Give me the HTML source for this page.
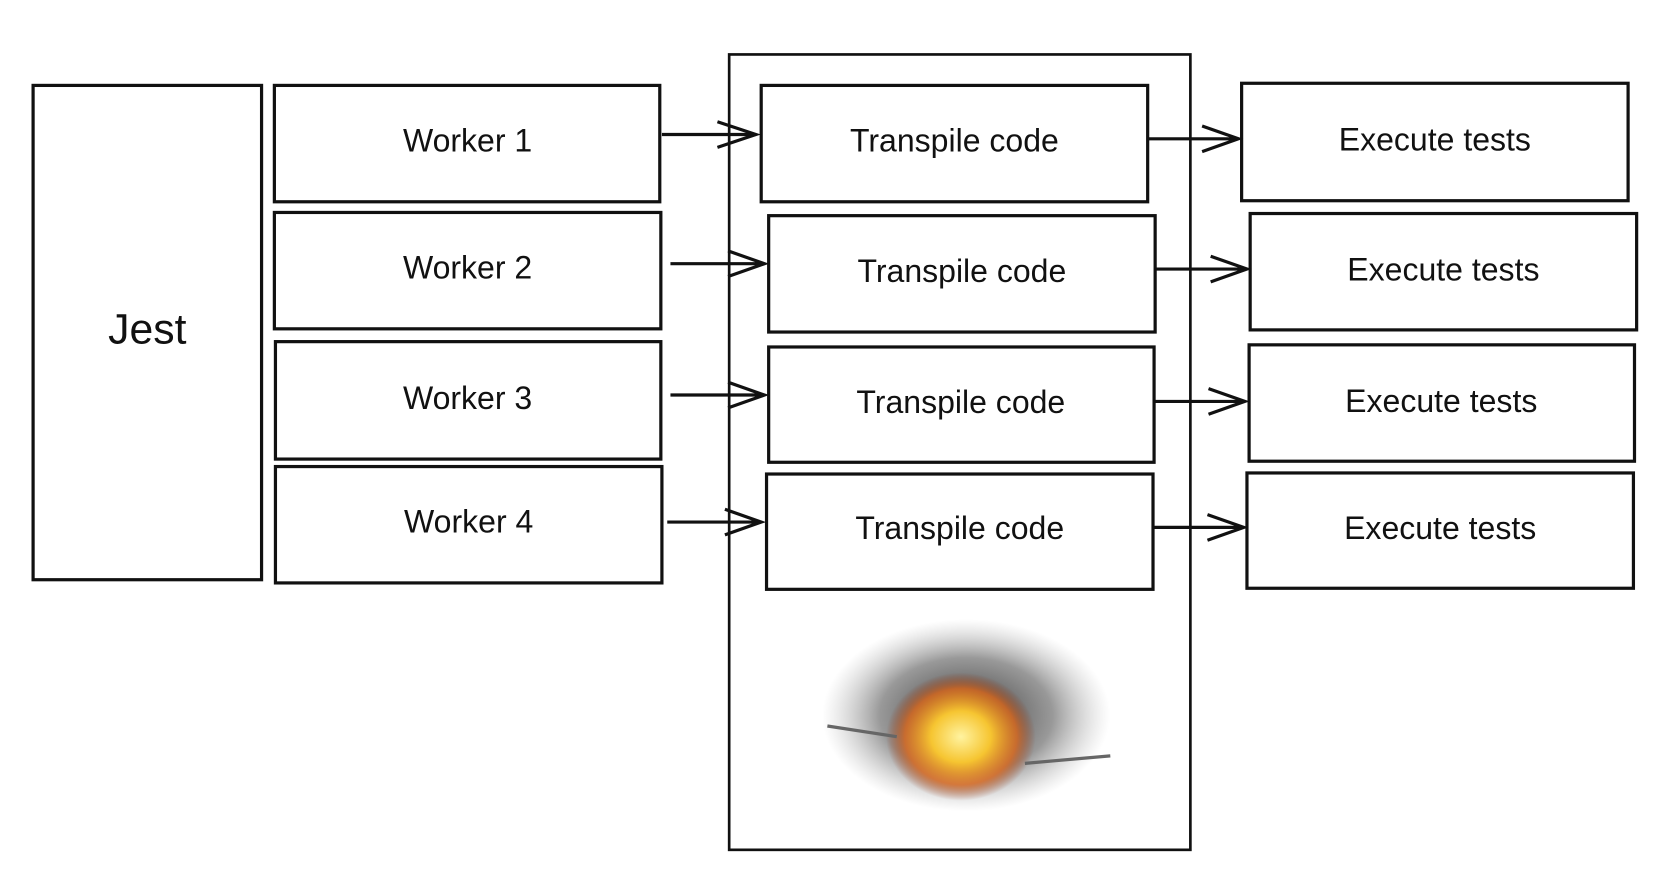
<!DOCTYPE html>
<html><head><meta charset="utf-8"><style>
html,body{margin:0;padding:0;background:#fff;width:1674px;height:892px;overflow:hidden}
svg{display:block}
text{font-family:"Liberation Sans",sans-serif;font-size:30px;fill:#111;text-anchor:middle;dominant-baseline:middle}
</style></head><body>
<svg width="1674" height="892" viewBox="0 0 1568 835.5" preserveAspectRatio="none">
<defs>
<radialGradient id="smoke" cx="50%" cy="50%" r="50%">
<stop offset="0" stop-color="#222" stop-opacity="0.9"/>
<stop offset="0.6" stop-color="#333" stop-opacity="0.5"/>
<stop offset="1" stop-color="#888" stop-opacity="0"/>
</radialGradient>
<radialGradient id="fire" cx="50%" cy="50%" r="50%">
<stop offset="0" stop-color="#fff3a0"/>
<stop offset="0.4" stop-color="#f6c531"/>
<stop offset="0.75" stop-color="#d9661a" stop-opacity="0.8"/>
<stop offset="1" stop-color="#8a2b0a" stop-opacity="0"/>
</radialGradient>
</defs>
<g fill="none" stroke="#111" stroke-width="3">
<rect x="31" y="80" width="214" height="463"/>
<rect x="257" y="80" width="361" height="109"/>
<rect x="257" y="199" width="362" height="109"/>
<rect x="258" y="320" width="361" height="110"/>
<rect x="258" y="437" width="362" height="109"/>
<rect x="683" y="51" width="432" height="745" stroke-width="2.5"/>
<rect x="713" y="80" width="362" height="109"/>
<rect x="720" y="202" width="362" height="109"/>
<rect x="720" y="325" width="361" height="108"/>
<rect x="718" y="444" width="362" height="108"/>
<rect x="1163" y="78" width="362" height="110"/>
<rect x="1171" y="200" width="362" height="109"/>
<rect x="1170" y="323" width="361" height="109"/>
<rect x="1168" y="443" width="362" height="108"/>
<path d="M620 126H708M672 114L708 126L672 138"/>
<path d="M628 247H716M682 235L716 247L682 259"/>
<path d="M628 370H716M682 358L716 370L682 382"/>
<path d="M625 489H713M679 477L713 489L679 501"/>
<path d="M1075 130H1160M1126 118L1160 130L1126 142"/>
<path d="M1082 252H1168M1134 240L1168 252L1134 264"/>
<path d="M1081 376H1166M1132 364L1166 376L1132 388"/>
<path d="M1080 494H1165M1131 482L1165 494L1131 506"/>
</g>
<text x="138" y="311" style="font-size:40px">Jest</text>
<text x="438" y="134">Worker 1</text>
<text x="438" y="253">Worker 2</text>
<text x="438" y="375">Worker 3</text>
<text x="439" y="491">Worker 4</text>
<text x="894" y="134">Transpile code</text>
<text x="901" y="256">Transpile code</text>
<text x="900" y="379">Transpile code</text>
<text x="899" y="497">Transpile code</text>
<text x="1344" y="133">Execute tests</text>
<text x="1352" y="255">Execute tests</text>
<text x="1350" y="378">Execute tests</text>
<text x="1349" y="497">Execute tests</text>
<ellipse cx="905" cy="670" rx="135" ry="90" fill="url(#smoke)"/>
<ellipse cx="900" cy="690" rx="70" ry="60" fill="url(#fire)"/>
<path d="M775 680L840 690M960 715L1040 708" stroke="#666" stroke-width="3"/>
</svg>
</body></html>
